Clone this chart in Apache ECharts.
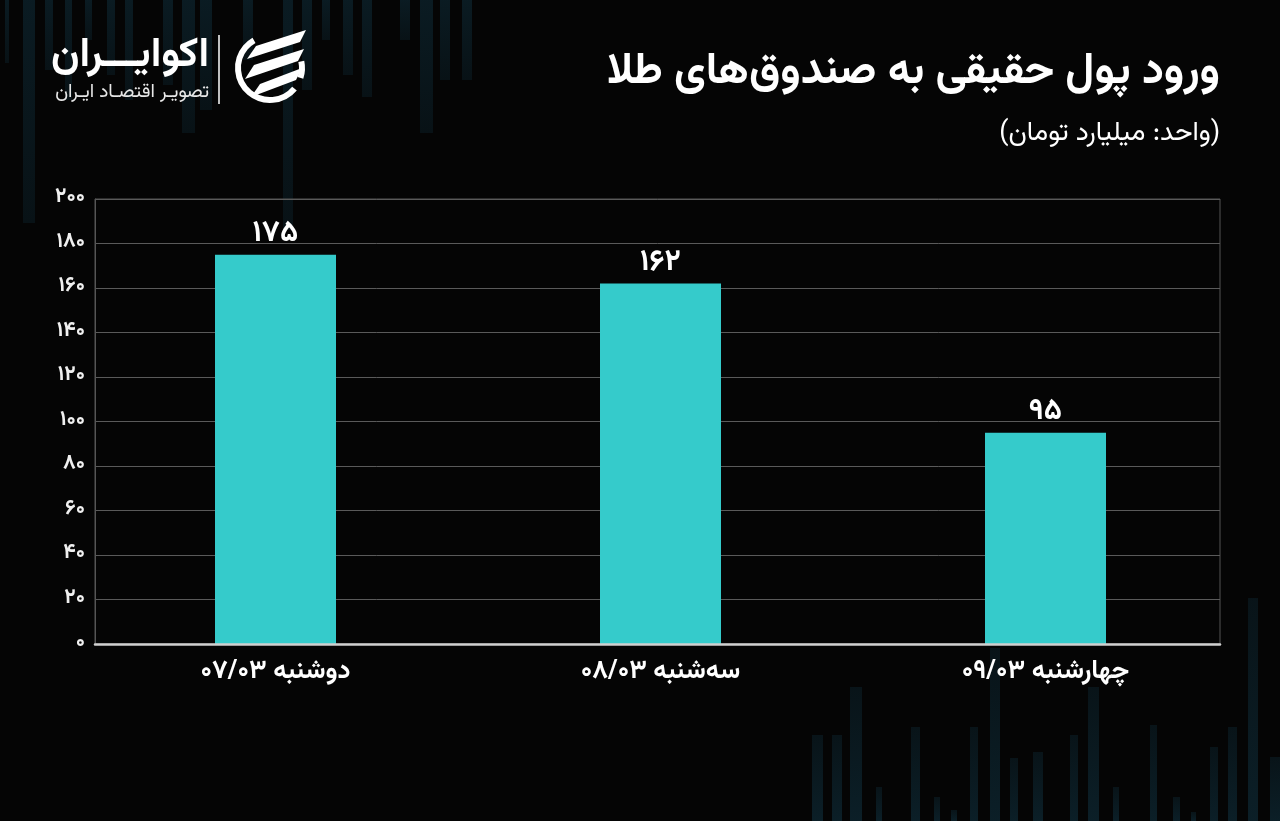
<!DOCTYPE html>
<html>
<head>
<meta charset="utf-8">
<script src="https://cdn.jsdelivr.net/npm/echarts@6/dist/echarts.min.js"></script>
<style>
html,body{margin:0;padding:0;background:#050505;}
#c{width:1280px;height:821px;}
</style>
</head>
<body>
<div id="c"></div>
<script>
// ---- data ----
const categories = ['دوشنبه ۰۷/۰۳', 'سه‌شنبه ۰۸/۰۳', 'چهارشنبه ۰۹/۰۳'];
const values = [175, 162, 95];
const yTicks = [0, 20, 40, 60, 80, 100, 120, 140, 160, 180, 200];
const yTickLabels = ['۰', '۲۰', '۴۰', '۶۰', '۸۰', '۱۰۰', '۱۲۰', '۱۴۰', '۱۶۰', '۱۸۰', '۲۰۰'];
const titleText = 'ورود پول حقیقی به صندوق‌های طلا';
const subtitleText = '(واحد: میلیارد تومان)';
const brandName = 'اکوایـــران';
const brandTagline = 'تصویـر اقتصـاد ایـران';

const FONT = "Vazirmatn, 'Noto Sans Arabic', 'DejaVu Sans', sans-serif";
const faDigits = '۰۱۲۳۴۵۶۷۸۹';
function toFa(n) { return String(n).replace(/[0-9]/g, d => faDigits[+d]); }

// decorative background stripes (artwork, not data)
const topDecor = [[5,4,63],[23,12,223],[45,8,70],[65,7,100],[85,7,40],[107,8,75],[125,8,100],[163,10,85],[182,13,133],[200,12,110],[243,10,60],[283,10,230],[302,10,90],[322,8,40],[343,10,75],[362,10,97],[400,10,40],[420,13,133],[440,10,80],[462,10,80]];
const botDecor = [[812,11,735],[832,10,735],[850,12,687],[876,6,787],[911,9,727],[934,6,797],[951,6,810],[970,8,727],[990,10,648],[1010,8,758],[1033,10,752],[1070,8,735],[1088,11,687],[1113,6,787],[1150,7,725],[1173,7,797],[1191,5,812],[1210,8,747],[1228,9,727],[1248,10,598],[1270,10,757]];

const graphics = [];
topDecor.forEach(d => graphics.push({
  type: 'rect', z: -10, silent: true,
  shape: { x: d[0], y: 0, width: d[1], height: d[2] },
  style: { fill: new echarts.graphic.LinearGradient(0,0,0,1,[{offset:0,color:'rgba(14,42,54,0.6)'},{offset:1,color:'rgba(14,42,54,0.35)'}]) }
}));
botDecor.forEach(d => graphics.push({
  type: 'rect', z: -10, silent: true,
  shape: { x: d[0], y: d[2], width: d[1], height: 821 - d[2] },
  style: { fill: new echarts.graphic.LinearGradient(0,0,0,1,[{offset:0,color:'rgba(14,42,54,0.4)'},{offset:1,color:'rgba(14,42,54,0.7)'}]) }
}));

// title & subtitle
graphics.push({ type: 'text', x: 1220, y: 76, style: { text: titleText, fill: '#ffffff', font: 'bold 44px ' + FONT, textAlign: 'right', textVerticalAlign: 'middle' } });
graphics.push({ type: 'text', x: 1220, y: 136, style: { text: subtitleText, fill: '#ffffff', font: '27px ' + FONT, textAlign: 'right', textVerticalAlign: 'middle' } });

// logo
graphics.push({ type: 'text', x: 209, y: 60, style: { text: brandName, fill: '#ffffff', font: 'bold 41px ' + FONT, textAlign: 'right', textVerticalAlign: 'middle' } });
graphics.push({ type: 'text', x: 209, y: 94, style: { text: brandTagline, fill: '#e8e8e8', font: '19px ' + FONT, textAlign: 'right', textVerticalAlign: 'middle' } });
graphics.push({ type: 'line', shape: { x1: 219, y1: 35, x2: 219, y2: 104 }, style: { stroke: '#ffffff', lineWidth: 1.5 } });
// icon
graphics.push({ type: 'arc', shape: { cx: 270, cy: 68, r: 32, startAngle: 40 * Math.PI / 180, endAngle: 240 * Math.PI / 180, clockwise: true }, style: { stroke: '#ffffff', lineWidth: 6, fill: null } });
graphics.push({ type: 'arc', shape: { cx: 270, cy: 68, r: 32, startAngle: -12 * Math.PI / 180, endAngle: 18 * Math.PI / 180, clockwise: true }, style: { stroke: '#ffffff', lineWidth: 6, fill: null } });
graphics.push({ type: 'polygon', shape: { points: [[247,59],[256,46],[306,30],[300,42]] }, style: { fill: '#ffffff' } });
graphics.push({ type: 'polygon', shape: { points: [[245,79],[254,65],[304,49],[298,61]] }, style: { fill: '#ffffff' } });
graphics.push({ type: 'polygon', shape: { points: [[251,97],[260,84],[302,68],[296,80]] }, style: { fill: '#ffffff' } });

const chart = echarts.init(document.getElementById('c'), null, { renderer: 'canvas' });
chart.setOption({
  backgroundColor: '#050505',
  animation: false,
  grid: [
    { left: 95, right: 60, top: 199, bottom: 177, show: true, borderColor: '#555555', borderWidth: 1, backgroundColor: 'transparent' },
    { left: 83, right: 42, top: 199, bottom: 177 }
  ],
  xAxis: [
    { gridIndex: 0, type: 'category', data: categories, axisLabel: { show: false }, axisTick: { show: false },
      axisLine: { show: true, lineStyle: { color: '#d0d0d0', width: 2.5 } }, z: 5 },
    { gridIndex: 1, type: 'category', data: categories, axisLine: { show: false }, axisTick: { show: false },
      axisLabel: { color: '#ffffff', fontFamily: FONT, fontWeight: 'bold', fontSize: 26, margin: 17 } }
  ],
  yAxis: [
    { gridIndex: 0, type: 'value', min: 0, max: 200, interval: 20,
      axisLine: { show: true, lineStyle: { color: '#555555', width: 1 } }, axisTick: { show: false },
      splitLine: { show: true, lineStyle: { color: '#5a5a5a', width: 1 } },
      axisLabel: { color: '#f0f0f0', fontFamily: FONT, fontWeight: 'bold', fontSize: 21, margin: 10,
        formatter: v => { const i = yTicks.indexOf(v); return i >= 0 ? yTickLabels[i] : ''; } } },
    { gridIndex: 1, type: 'value', min: 0, max: 200, interval: 20, show: false, splitLine: { show: false } }
  ],
  series: [{
    type: 'bar', xAxisIndex: 1, yAxisIndex: 1, data: values, barWidth: 121,
    itemStyle: { color: '#35CBCB' },
    label: { show: true, position: 'top', distance: 3, color: '#ffffff', fontFamily: FONT, fontWeight: 'bold', fontSize: 30,
      formatter: p => toFa(p.value) }
  }],
  graphic: graphics
});
</script>
</body>
</html>
